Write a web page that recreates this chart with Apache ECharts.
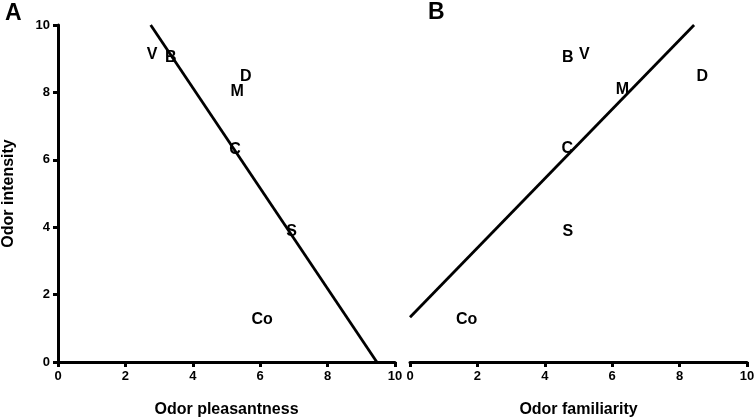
<!DOCTYPE html>
<html>
<head>
<meta charset="utf-8">
<script src="https://cdn.jsdelivr.net/npm/echarts@6/dist/echarts.min.js"></script>
<style>html,body{margin:0;padding:0;background:#fff}#c{width:756px;height:420px}</style>
</head>
<body>
<div id="c"></div>
<script>
var odorNames = ['V', 'B', 'D', 'M', 'C', 'S', 'Co'];
var pleasantness = [2.79, 3.35, 5.57, 5.32, 5.25, 6.93, 6.06];
var intensityA = [9.11, 9.04, 8.47, 8.02, 6.29, 3.87, 1.25];
var familiarity = [5.17, 4.68, 8.67, 6.30, 4.67, 4.68, 1.68];
var intensityB = [9.11, 9.04, 8.47, 8.07, 6.32, 3.87, 1.25];
var fitA_x = [2.75, 9.46];
var fitA_y = [10, 0];
var fitB_x = [0, 8.43];
var fitB_y = [1.33, 10];

var FONT = '"Liberation Sans", Arial, sans-serif';
function pts(xs, ys, names) {
  return xs.map(function (x, i) { return names ? { name: names[i], value: [x, ys[i]] } : [x, ys[i]]; });
}
function axisBase(show) {
  return {
    type: 'value', min: 0, max: 10, interval: 2,
    show: show,
    splitLine: { show: false },
    axisLine: { show: true, onZero: false, lineStyle: { color: '#000', width: 3 } },
    axisTick: { show: true, length: 5, lineStyle: { color: '#000', width: 3 } },
    axisLabel: { color: '#000000', fontWeight: 'bold', fontSize: 13, fontFamily: FONT, margin: 8 },
    nameLocation: 'middle',
    nameTextStyle: { color: '#000000', fontWeight: 'bold', fontSize: 16, fontFamily: FONT }
  };
}
var xA = axisBase(true); xA.gridIndex = 0; xA.name = 'Odor pleasantness'; xA.nameGap = 40;
var xB = axisBase(true); xB.gridIndex = 1; xB.name = 'Odor familiarity'; xB.nameGap = 40;
var yA = axisBase(true); yA.gridIndex = 0; yA.name = 'Odor intensity'; yA.nameGap = 41;
var yB = axisBase(false); yB.gridIndex = 1;

var labelStyle = {
  show: true, position: 'inside', formatter: '{b}',
  color: '#000000', opacity: 1, fontWeight: 'bold', fontSize: 16, fontFamily: FONT,
  textBorderWidth: 0
};

var chart = echarts.init(document.getElementById('c'));
chart.setOption({
  animation: false,
  backgroundColor: '#fff',
  grid: [
    { left: 58, top: 25, width: 337, height: 337, containLabel: false, outerBoundsMode: 'none' },
    { left: 410, top: 25, width: 337, height: 337, containLabel: false, outerBoundsMode: 'none' }
  ],
  xAxis: [xA, xB],
  yAxis: [yA, yB],
  graphic: [
    { type: 'text', left: 5, top: 2, style: { text: 'A', font: 'bold 23px ' + FONT, fill: '#000' } },
    { type: 'text', left: 428, top: 1, style: { text: 'B', font: 'bold 23px ' + FONT, fill: '#000' } }
  ],
  series: [
    { type: 'line', xAxisIndex: 0, yAxisIndex: 0, data: pts(fitA_x, fitA_y), symbol: 'none',
      lineStyle: { color: '#000', width: 2.8 }, z: 2 },
    { type: 'line', xAxisIndex: 1, yAxisIndex: 1, data: pts(fitB_x, fitB_y), symbol: 'none',
      lineStyle: { color: '#000', width: 2.8 }, z: 2 },
    { type: 'scatter', xAxisIndex: 0, yAxisIndex: 0, symbolSize: 0, itemStyle: { color: '#000' },
      data: pts(pleasantness, intensityA, odorNames), label: labelStyle, z: 3 },
    { type: 'scatter', xAxisIndex: 1, yAxisIndex: 1, symbolSize: 0, itemStyle: { color: '#000' },
      data: pts(familiarity, intensityB, odorNames), label: labelStyle, z: 3 }
  ]
});
</script>
</body>
</html>
